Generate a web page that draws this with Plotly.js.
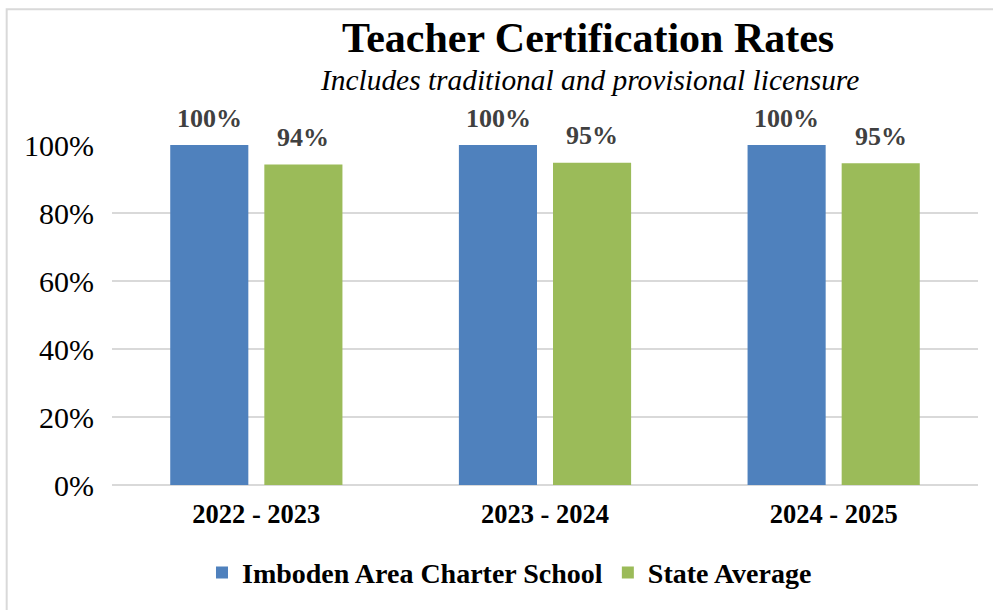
<!DOCTYPE html>
<html>
<head>
<meta charset="utf-8">
<script src="https://cdn.plot.ly/plotly-3.0.1.min.js"></script>
<style>html,body{margin:0;padding:0;background:#fff;}#chart{width:993px;height:610px;}</style>
</head>
<body>
<div id="chart"></div>
<script>
const categories = ['2022 - 2023', '2023 - 2024', '2024 - 2025'];
const schoolName = 'Imboden Area Charter School';
const stateName = 'State Average';
const schoolValues = [1.00, 1.00, 1.00];
const stateValues = [0.943, 0.948, 0.946];
const yTickVals = [0, 0.2, 0.4, 0.6, 0.8, 1.0];
const yTickText = ['0%', '20%', '40%', '60%', '80%', '100%'];

const FONT = "'Liberation Serif', 'Times New Roman', serif";
const BLUE = '#4f81bd';
const GREEN = '#9bbb59';
const LABEL = '#404040';

const traces = [
  {type: 'bar', name: schoolName, x: categories, y: schoolValues, marker: {color: BLUE}, hoverinfo: 'none'},
  {type: 'bar', name: stateName, x: categories, y: stateValues, marker: {color: GREEN}, hoverinfo: 'none'}
];

const annotations = [];
function addLabels(values, xshift) {
  values.forEach((v, i) => {
    annotations.push({
      x: categories[i], y: v, xref: 'x', yref: 'y',
      text: '<b>' + Math.round(v * 100) + '%</b>', showarrow: false,
      xshift: xshift, yshift: 27, yanchor: 'middle',
      font: {family: FONT, size: 26, color: LABEL}
    });
  });
}
addLabels(schoolValues, -47);
addLabels(stateValues, 47);

annotations.push({
  xref: 'paper', yref: 'paper', x: (587.5 - 112.25) / 865.5, y: (488 - 37) / 343,
  text: '<b>Teacher Certification Rates</b>', showarrow: false, yanchor: 'middle',
  font: {family: FONT, size: 42, color: '#000'}
});
annotations.push({
  xref: 'paper', yref: 'paper', x: (589 - 112.25) / 865.5, y: (488 - 79) / 343,
  text: '<i>Includes traditional and provisional licensure</i>', showarrow: false, yanchor: 'middle',
  font: {family: FONT, size: 29.4, color: '#000'}
});
annotations.push({
  xref: 'paper', yref: 'paper', x: (0 - 112.25) / 865.5, y: (488 + 3) / 343,
  xanchor: 'left', yanchor: 'bottom',
  text: 'Graph 1: Teacher Certification Rates', showarrow: false,
  font: {family: FONT, size: 26, color: '#000'}
});

const layout = {
  width: 993, height: 610,
  margin: {l: 112.25, r: 15, t: 145, b: 122, pad: 0},
  paper_bgcolor: '#fff', plot_bgcolor: '#fff',
  barmode: 'group', bargap: 0.348, bargroupgap: 0.17,
  showlegend: true,
  legend: {
    orientation: 'h', x: 0.459, xanchor: 'center', y: -0.258, yanchor: 'middle',
    font: {family: FONT, size: 28, color: '#000', weight: 'bold'},
    itemwidth: 30, traceorder: 'normal'
  },
  xaxis: {
    type: 'category', showgrid: false, zeroline: false, showline: false,
    ticks: '', ticklabelstandoff: 10,
    tickfont: {family: FONT, size: 26.5, color: '#000', weight: 'bold'},
    fixedrange: true
  },
  yaxis: {
    range: [0, 1], tickvals: yTickVals, ticktext: yTickText,
    showgrid: true, gridcolor: '#d9d9d9', gridwidth: 1.5,
    zeroline: true, zerolinecolor: '#d9d9d9', zerolinewidth: 1.5,
    showline: false, ticks: '', ticklabelstandoff: 17,
    tickfont: {family: FONT, size: 30, color: '#000'},
    fixedrange: true
  },
  shapes: [{
    type: 'rect', xref: 'paper', yref: 'paper',
    x0: (7 - 112.25) / 865.5, x1: (1000 - 112.25) / 865.5,
    y0: (488 - 620) / 343, y1: (488 - 8) / 343,
    line: {color: '#d9d9d9', width: 2}, fillcolor: 'rgba(0,0,0,0)', layer: 'below'
  }],
  annotations: annotations,
  font: {family: FONT}
};

Plotly.newPlot('chart', traces, layout, {displayModeBar: false, staticPlot: true});
</script>
</body>
</html>
